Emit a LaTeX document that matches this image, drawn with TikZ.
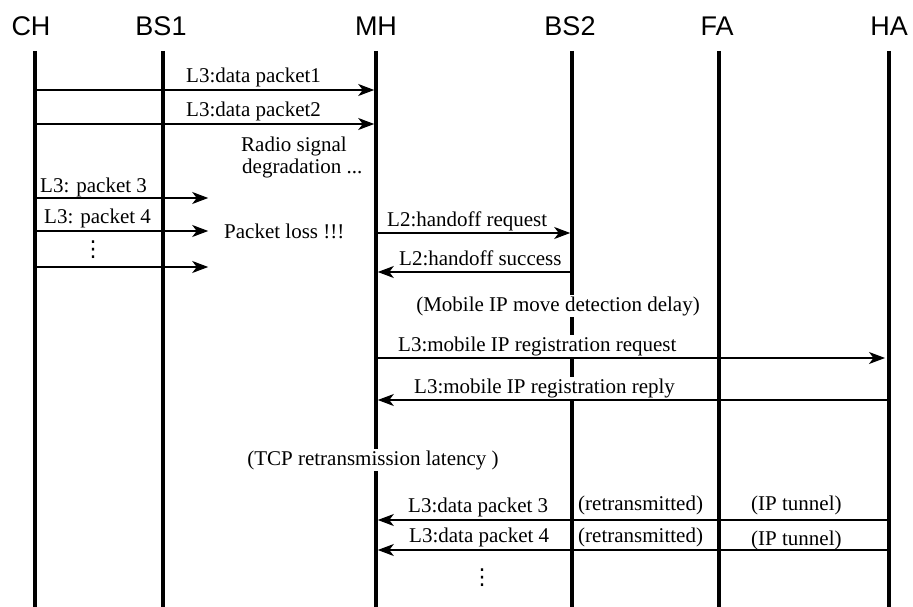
\documentclass[tikz,border=0pt]{standalone}
\usepackage{fontspec}
\setmainfont{Liberation Serif}
\newfontfamily\hdrfont{Liberation Sans}
\newfontfamily\symfont{DejaVu Sans}
\usetikzlibrary{arrows.meta}
\begin{document}
\begin{tikzpicture}[x=1pt,y=-1pt,
  life/.style={line width=3.6pt},
  msg/.style={line width=1.1pt,-{Stealth[length=16pt,width=12pt,inset=4.5pt]},shorten >=1.8pt},
  hdr/.style={font=\hdrfont\fontsize{27}{30}\selectfont,anchor=base,inner sep=0pt},
  lbl/.style={font=\fontsize{21}{24}\selectfont,anchor=base west,inner sep=1pt,fill=white},
  note/.style={font=\fontsize{21}{24}\selectfont,anchor=base,inner sep=1.5pt,fill=white},
  dotsn/.style={font=\symfont\fontsize{22}{24}\selectfont,inner sep=0pt},
]
\useasboundingbox (0,0) rectangle (913,607);
% headers
\node[hdr] (CH) at (31,36) {CH};
\node[hdr] (BS1) at (161,36) {BS1};
\node[hdr] (MH) at (376,36) {MH};
\node[hdr] (BS2) at (570,36) {BS2};
\node[hdr] (FA) at (717,36) {FA};
\node[hdr] (HA) at (889,36) {HA};
% lifeline ends
\coordinate (CHt) at (35,51);   \coordinate (CHb) at (35,607);
\coordinate (BS1t) at (163,51); \coordinate (BS1b) at (163,607);
\coordinate (MHt) at (376,51);  \coordinate (MHb) at (376,607);
\coordinate (BS2t) at (572,51); \coordinate (BS2b) at (572,607);
\coordinate (FAt) at (719,51);  \coordinate (FAb) at (719,607);
\coordinate (HAt) at (889,51);  \coordinate (HAb) at (889,607);
\draw[life] (CHt) -- (CHb);
\draw[life] (BS1t) -- (BS1b);
\draw[life] (MHt) -- (MHb);
\draw[life] (BS2t) -- (BS2b);
\draw[life] (FAt) -- (FAb);
\draw[life] (HAt) -- (HAb);
% free ends of lost packets
\coordinate (lost1) at (210,198);
\coordinate (lost2) at (210,231);
\coordinate (lost3) at (210,267);
% labels
\node[lbl] (l1) at (185,83) {L3:data packet1};
\node[lbl] (l2) at (185,117) {L3:data packet2};
\node[lbl] (radio1) at (240,152) {Radio signal};
\node[lbl] (radio2) at (241,174) {degradation ...};
\node[lbl] (l3) at (39,192) {L3: packet 3};
\node[lbl] (l4) at (43,223) {L3: packet 4};
\node[dotsn] (d1) at (93,250) {⋮};
\node[lbl] (loss) at (223,238) {Packet loss !!!};
\node[lbl] (hreq) at (386,226) {L2:handoff request};
\node[lbl] (hsuc) at (398,265) {L2:handoff success};
\node[note] (mip) at (558,311) {(Mobile IP move detection delay)};
\node[lbl] (rreq) at (397,351) {L3:mobile IP registration request};
\node[lbl] (rrep) at (413,393) {L3:mobile IP registration reply};
\node[note] (tcp) at (373,465) {(TCP retransmission latency )};
\node[lbl] (dp3) at (407,512) {L3:data packet 3};
\node[lbl] (rt3) at (577,510) {(retransmitted)};
\node[lbl] (tu3) at (750,510) {(IP tunnel)};
\node[lbl] (dp4) at (408,542) {L3:data packet 4};
\node[lbl] (rt4) at (577,542) {(retransmitted)};
\node[lbl] (tu4) at (750,545) {(IP tunnel)};
\node[dotsn] (d2) at (482,578) {⋮};
% messages
\draw[msg] (CHt |- 0,90) -- (MHt |- 0,90);
\draw[msg] (CHt |- 0,124) -- (MHt |- 0,124);
\draw[msg] (CHt |- lost1) -- (lost1);
\draw[msg] (CHt |- lost2) -- (lost2);
\draw[msg] (CHt |- lost3) -- (lost3);
\draw[msg] (MHt |- 0,233) -- (BS2t |- 0,233);
\draw[msg] (BS2t |- 0,272) -- (MHt |- 0,272);
\draw[msg,shorten <=2pt,shorten >=4pt] (MHt |- 0,358) -- (HAt |- 0,358);
\draw[msg] (HAt |- 0,400) -- (MHt |- 0,400);
\draw[msg] (HAt |- 0,520) -- (MHt |- 0,520);
\draw[msg] (HAt |- 0,550) -- (MHt |- 0,550);
\end{tikzpicture}
\end{document}
